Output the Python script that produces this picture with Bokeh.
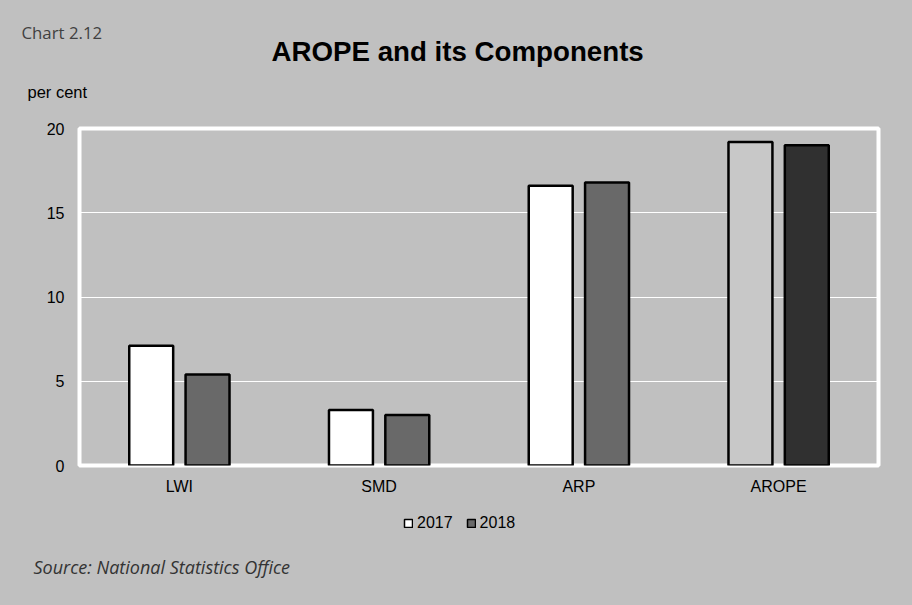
from bokeh.plotting import figure
from bokeh.layouts import column
from bokeh.models import (ColumnDataSource, Legend, LegendItem, FixedTicker,
                          FactorRange, Range1d, Title)
from bokeh.transform import dodge
from bokeh.embed import file_html
from bokeh.resources import INLINE

# ---- data ----
categories = ["LWI", "SMD", "ARP", "AROPE"]
values_2017 = [7.1, 3.3, 16.6, 19.2]
values_2018 = [5.4, 3.0, 16.8, 19.0]
colors_2017 = ["#ffffff", "#ffffff", "#ffffff", "#c8c8c8"]
colors_2018 = ["#696969", "#696969", "#696969", "#303030"]
series_names = ["2017", "2018"]
y_ticks = [0, 5, 10, 15, 20]

title_text = "AROPE and its Components"
chart_no = "Chart 2.12"
unit_text = "per cent"
source_text = "Source: National Statistics Office"

BG = "#c0c0c0"

src = ColumnDataSource(dict(cat=categories, v17=values_2017, v18=values_2018,
                            c17=colors_2017, c18=colors_2018))

# ---- main chart ----
p = figure(width=896, height=500, x_range=FactorRange(factors=categories),
           y_range=Range1d(0, 20), output_backend="svg", toolbar_location=None,
           min_border_left=79, min_border_right=18, min_border_top=128,
           min_border_bottom=35)
p.background_fill_color = BG
p.border_fill_color = BG
p.outline_line_color = "white"
p.outline_line_width = 4

p.vbar(x=dodge("cat", -0.141, range=p.x_range), top="v17", width=0.22,
       source=src, fill_color="c17", line_color="black", line_width=2.5)
p.vbar(x=dodge("cat", 0.141, range=p.x_range), top="v18", width=0.22,
       source=src, fill_color="c18", line_color="black", line_width=2.5)

p.xgrid.grid_line_color = None
p.ygrid.grid_line_color = "white"
p.ygrid.grid_line_width = 1
p.ygrid.ticker = FixedTicker(ticks=y_ticks)

for ax in (p.xaxis[0], p.yaxis[0]):
    ax.axis_line_color = None
    ax.major_tick_line_color = None
    ax.minor_tick_line_color = None
    ax.major_tick_out = 0
    ax.major_tick_in = 0
    ax.major_label_text_font = "Liberation Sans"
    ax.major_label_text_font_size = "16px"
    ax.major_label_text_color = "black"
p.yaxis[0].ticker = FixedTicker(ticks=y_ticks)
p.yaxis[0].major_label_standoff = 15
p.xaxis[0].major_label_standoff = 12

# texts above the frame (innermost first)
p.add_layout(Title(text=unit_text, align="left", offset=-52, standoff=55,
                   text_font="Liberation Sans", text_font_style="normal",
                   text_font_size="16.5px", text_color="black"), "above")
p.add_layout(Title(text=title_text, align="left", offset=192, standoff=-27,
                   text_font="Liberation Sans", text_font_style="bold",
                   text_font_size="27.7px", text_color="black"), "above")
p.add_layout(Title(text=chart_no, align="left", offset=-58, standoff=8,
                   text_font="Open Sans", text_font_style="normal",
                   text_font_size="16.8px", text_color="#404040"), "above")

# ---- footer: legend + source ----
foot = figure(width=896, height=89, x_range=p.x_range, y_range=Range1d(0, 1),
              output_backend="svg", toolbar_location=None,
              min_border_left=79, min_border_right=18, min_border_top=0,
              min_border_bottom=39, x_axis_type=None, y_axis_type=None)
foot.background_fill_color = BG
foot.border_fill_color = BG
foot.outline_line_color = None
foot.grid.visible = False

# legend keys (renderers hidden; only their legend swatches are shown)
k17 = foot.vbar(x="cat", top="v17", width=0.22, source=src, fill_color="c17",
                line_color="black", line_width=1.5, visible=False)
k18 = foot.vbar(x="cat", top="v18", width=0.22, source=src, fill_color="c18",
                line_color="black", line_width=1.5, visible=False)
legend = Legend(items=[LegendItem(label=series_names[0], renderers=[k17], index=0),
                       LegendItem(label=series_names[1], renderers=[k18], index=0)],
                orientation="horizontal", location=(324, 18),
                background_fill_alpha=0, border_line_color=None,
                padding=0, margin=0, spacing=13, label_standoff=4,
                glyph_width=10, glyph_height=10, inactive_fill_alpha=0,
                label_text_font="Liberation Sans", label_text_font_size="16px",
                label_text_color="black", label_height=16)
foot.add_layout(legend, "center")
foot.add_layout(Title(text=source_text, align="left", offset=-46, standoff=9,
                      vertical_align="top",
                      text_font="Open Sans", text_font_style="italic",
                      text_font_size="18px", text_color="#333333"), "below")

layout = column(p, foot, spacing=0)
html = file_html(layout, INLINE)
html = html.replace("</head>", "<style>body{background-color:#c0c0c0;}</style></head>", 1)
open("out.html", "w").write(html)
